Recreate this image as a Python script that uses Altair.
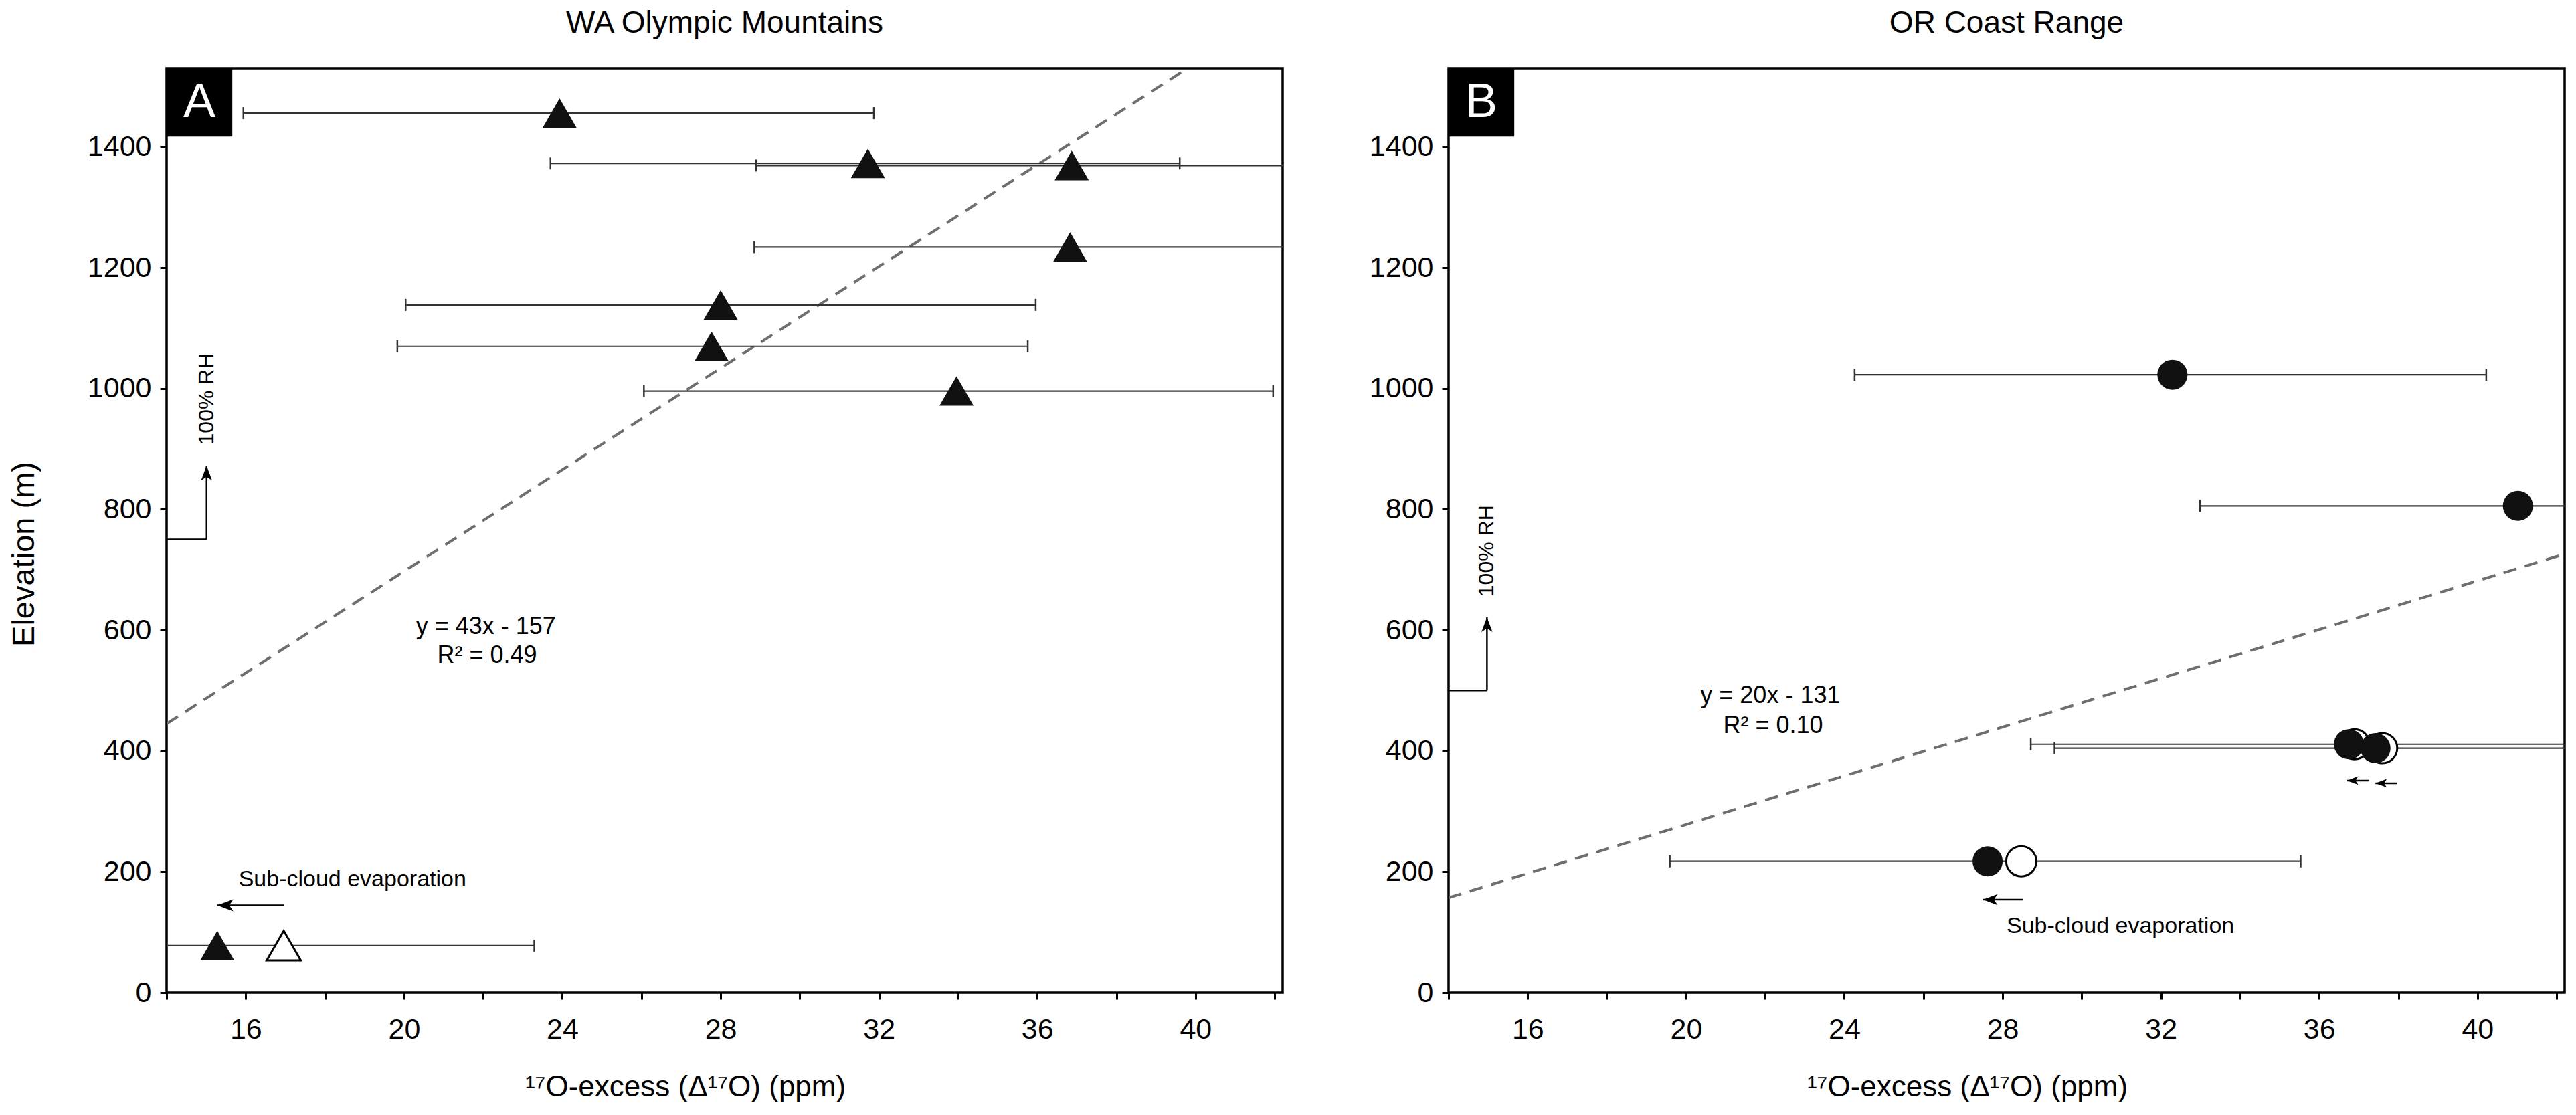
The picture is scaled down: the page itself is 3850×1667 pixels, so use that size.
import altair as alt
import pandas as pd

# ---------------- values ----------------
# Panel A - WA Olympic Mountains (filled triangles, +/- error bars)
A_x = [23.93, 31.72, 36.87, 36.83, 28.00, 27.77, 33.96, 15.28]
A_y = [1455.7, 1372.5, 1369.0, 1234.0, 1138.3, 1069.7, 995.8, 77.6]
A_lo = [15.94, 23.70, 28.89, 28.85, 20.04, 19.83, 26.06, 7.30]
A_hi = [31.87, 39.60, 44.85, 44.80, 35.96, 35.76, 41.96, 23.29]
A_open_x = [16.96]
A_open_y = [77.6]
A_fit_x = [14.0, 39.8]
A_fit_y = [445.0, 1530.0]

# Panel B - OR Coast Range (filled circles, +/- error bars)
B_x = [32.29, 41.02, 36.75, 37.42, 27.62]
B_y = [1022.8, 805.6, 411.0, 404.6, 217.3]
B_lo = [24.26, 32.99, 28.71, 29.31, 19.59]
B_hi = [40.22, 49.00, 44.70, 45.30, 35.53]
B_open_x = [36.89, 37.59, 28.47]
B_open_y = [411.0, 404.6, 217.3]
B_fit_x = [14.0, 42.2]
B_fit_y = [157.0, 726.0]

# annotation arrows: tail x, head x, y, head size
A_arrow_from = [16.96]
A_arrow_to = [15.28]
A_arrow_y = [144.6]
A_arrow_size = [576]
B_arrow_from = [37.25, 37.97, 28.52]
B_arrow_to = [36.70, 37.42, 27.50]
B_arrow_y = [351.0, 346.6, 154.0]
B_arrow_size = [289, 289, 484]

# "100% RH" bracket: x of corner, y of foot, y of arrow tip, text position
A_rh = dict(x=15.01, y0=750.0, y1=872.0, tx=15.01, ty=982.0)
B_rh = dict(x=14.97, y0=500.0, y1=621.0, tx=14.96, ty=731.0)

# regression labels
A_eq_text = ["y = 43x - 157", "R² = 0.49"]
A_eq_x = [22.07, 22.10]
A_eq_y = [606.0, 557.6]
B_eq_text = ["y = 20x - 131", "R² = 0.10"]
B_eq_x = [22.13, 22.20]
B_eq_y = [491.6, 441.7]

SUB_TEXT = "Sub-cloud evaporation"
A_sub = (15.82, 186.7)
B_sub = (28.10, 110.0)

# panel letter boxes
BOX_X = [14.0, 15.66]
BOX_Y = [1416.7, 1530.0]
LETTER_POS = (14.83, 1473.0)

X_DOMAIN = [14, 42.2]
Y_DOMAIN = [0, 1530]
X_TICKS = [14, 16, 18, 20, 22, 24, 26, 28, 30, 32, 34, 36, 38, 40, 42]
Y_TICKS = [0, 200, 400, 600, 800, 1000, 1200, 1400]
X_TITLE = "¹⁷O-excess (Δ¹⁷O) (ppm)"
Y_TITLE = "Elevation (m)"

FONT = "Liberation Sans, Arial, Helvetica, sans-serif"
LEFT_HEAD = "M0,0L2,-0.75L1.5,0L2,0.75Z"
UP_HEAD = "M0,0L-0.75,2L0,1.5L0.75,2Z"
CAP = "M0,-1L0,1"

W, H = 1668, 1382

XS = alt.Scale(domain=X_DOMAIN, nice=False, zero=False)
YS = alt.Scale(domain=Y_DOMAIN, nice=False, zero=False)

XAX = alt.Axis(values=X_TICKS, labelExpr="datum.value % 4 == 0 ? datum.label : ''",
               grid=False, domain=False, tickSize=10, tickWidth=3, tickColor="black",
               labelFont=FONT, labelFontSize=43, labelColor="black", labelPadding=24,
               titleFont=FONT, titleFontSize=44, titleFontWeight="normal", titleColor="black",
               titlePadding=42, titleX=775)


def yaxis():
    return alt.Axis(values=Y_TICKS, format="d", grid=False, domain=False, tickSize=10,
                    tickWidth=3, tickColor="black", labelFont=FONT, labelFontSize=43,
                    labelColor="black", labelPadding=13, titleFont=FONT, titleFontSize=47,
                    titleFontWeight="normal", titleColor="black", titlePadding=70,
                    titleY=726)


def panel(letter, title_text, px, py, plo, phi, ox, oy, fx, fy,
          ar_from, ar_to, ar_y, ar_s, rh, eq_t, eq_x, eq_y, sub, shape, msize, ytitle):
    YAX = yaxis()

    def X(f):
        return alt.X(f + ":Q", scale=XS, axis=XAX, title=X_TITLE)

    def Y(f):
        return alt.Y(f + ":Q", scale=YS, axis=YAX, title=ytitle)

    pts = pd.DataFrame({"x": px, "y": py, "lo": plo, "hi": phi})
    opn = pd.DataFrame({"x": ox, "y": oy})
    fit = pd.DataFrame({"x": fx, "y": fy})
    arr = pd.DataFrame({"x0": ar_from, "x1": ar_to, "y": ar_y, "s": ar_s})
    rhd = pd.DataFrame({"x0": [X_DOMAIN[0]], "x1": [rh["x"]], "y0": [rh["y0"]], "y1": [rh["y1"]],
                        "tx": [rh["tx"]], "ty": [rh["ty"]], "t": ["100% RH"]})
    eqd = pd.DataFrame({"x": eq_x, "y": eq_y, "t": eq_t})
    subd = pd.DataFrame({"x": [sub[0]], "y": [sub[1]], "t": [SUB_TEXT]})
    box = pd.DataFrame({"x0": [BOX_X[0]], "x1": [BOX_X[1]], "y0": [BOX_Y[0]], "y1": [BOX_Y[1]]})
    let = pd.DataFrame({"x": [LETTER_POS[0]], "y": [LETTER_POS[1]], "t": [letter]})

    l_fit = alt.Chart(fit).mark_line(strokeDash=[20, 13], strokeWidth=4, color="#6e6e6e",
                                     clip=True).encode(x=X("x"), y=Y("y"))
    l_err = alt.Chart(pts).mark_rule(strokeWidth=2.2, color="#333333", clip=True).encode(
        x=X("lo"), x2="hi:Q", y=Y("y"))
    l_cap = alt.Chart(pts).transform_fold(["lo", "hi"], as_=["end", "cx"]).mark_point(
        shape=CAP, size=324, filled=False, stroke="#333333", strokeWidth=2.5, opacity=1,
        clip=True).encode(x=X("cx"), y=Y("y"))
    l_open = alt.Chart(opn).mark_point(shape=shape, size=msize, filled=True, fill="white",
                                       stroke="black", strokeWidth=3, opacity=1).encode(
        x=X("x"), y=Y("y"))
    l_fill = alt.Chart(pts).mark_point(shape=shape, size=msize, filled=True, color="#111111",
                                       opacity=1, clip=True).encode(x=X("x"), y=Y("y"))
    l_shaft = alt.Chart(arr).mark_rule(strokeWidth=2.5, color="black").encode(
        x=X("x0"), x2="x1:Q", y=Y("y"))
    l_head = alt.Chart(arr).mark_point(shape=LEFT_HEAD, filled=True, color="black",
                                       opacity=1).encode(
        x=X("x1"), y=Y("y"), size=alt.Size("s:Q", scale=None))
    l_rh_h = alt.Chart(rhd).mark_rule(strokeWidth=2.5, color="black").encode(
        x=X("x0"), x2="x1:Q", y=Y("y0"))
    l_rh_v = alt.Chart(rhd).mark_rule(strokeWidth=2.5, color="black").encode(
        x=X("x1"), y=Y("y0"), y2="y1:Q")
    l_rh_head = alt.Chart(rhd).mark_point(shape=UP_HEAD, filled=True, color="black",
                                          opacity=1, size=484).encode(x=X("x1"), y=Y("y1"))
    l_rh_txt = alt.Chart(rhd).mark_text(angle=270, font=FONT, fontSize=32, color="black",
                                        align="center", baseline="middle").encode(
        x=X("tx"), y=Y("ty"), text="t:N")
    l_eq = alt.Chart(eqd).mark_text(font=FONT, fontSize=36, color="black", align="center",
                                    baseline="middle").encode(x=X("x"), y=Y("y"), text="t:N")
    l_sub = alt.Chart(subd).mark_text(font=FONT, fontSize=34, color="black", align="left",
                                      baseline="middle").encode(x=X("x"), y=Y("y"), text="t:N")
    l_box = alt.Chart(box).mark_rect(color="black").encode(
        x=X("x0"), x2="x1:Q", y=Y("y0"), y2="y1:Q")
    l_let = alt.Chart(let).mark_text(font=FONT, fontSize=72, color="white", align="center",
                                     baseline="middle").encode(x=X("x"), y=Y("y"), text="t:N")

    return alt.layer(l_fit, l_err, l_cap, l_open, l_fill, l_shaft, l_head, l_rh_h, l_rh_v,
                     l_rh_head, l_rh_txt, l_eq, l_sub, l_box, l_let).properties(
        width=W, height=H,
        title=alt.TitleParams(title_text, font=FONT, fontSize=46, fontWeight="normal",
                              color="black", offset=43))


pA = panel("A", "WA Olympic Mountains", A_x, A_y, A_lo, A_hi, A_open_x, A_open_y,
           A_fit_x, A_fit_y, A_arrow_from, A_arrow_to, A_arrow_y, A_arrow_size, A_rh,
           A_eq_text, A_eq_x, A_eq_y, A_sub, "triangle-up", 2600, Y_TITLE)
pB = panel("B", "OR Coast Range", B_x, B_y, B_lo, B_hi, B_open_x, B_open_y,
           B_fit_x, B_fit_y, B_arrow_from, B_arrow_to, B_arrow_y, B_arrow_size, B_rh,
           B_eq_text, B_eq_x, B_eq_y, B_sub, "circle", 2025, "")

chart = alt.hconcat(pA, pB, spacing=248, bounds="flush").configure_view(
    stroke="black", strokeWidth=3.5).properties(padding=2, background="white")

chart.save("out.html", embed_options={"renderer": "svg", "actions": False})
